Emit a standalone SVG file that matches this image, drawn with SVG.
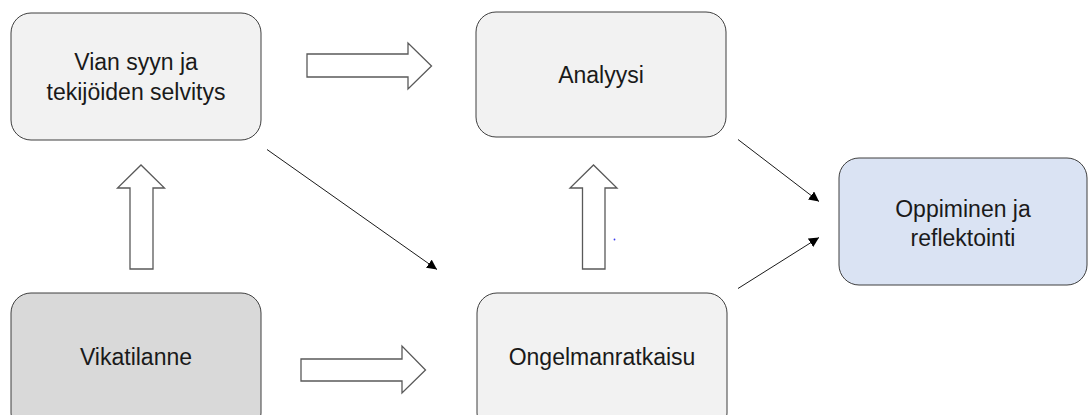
<svg xmlns="http://www.w3.org/2000/svg" width="1088" height="415" viewBox="0 0 1088 415">
  <style>
    .box { stroke: #3f3f3f; stroke-width: 1; }
    .light { fill: #f2f2f2; }
    .dark { fill: #d9d9d9; }
    .blue { fill: #dae3f3; }
    .label { font-family: "Liberation Sans", Arial, sans-serif; font-size: 23px; fill: #1a1a1a; text-anchor: middle; }
    .block { fill: #ffffff; stroke: #595959; stroke-width: 1.3; stroke-linejoin: miter; }
    .line { stroke: #1a1a1a; stroke-width: 1; fill: none; marker-end: url(#tip); }
  </style>
  <defs>
    <marker id="tip" viewBox="0 0 10 10" refX="10" refY="5" markerWidth="10" markerHeight="10" markerUnits="userSpaceOnUse" orient="auto">
      <path d="M0,0 L10,5 L0,10 Z" fill="#000000"/>
    </marker>
  </defs>

  <rect width="1088" height="415" fill="#ffffff"/>

  <g id="node-selvitys">
    <rect class="box light" x="11" y="13" width="250" height="127" rx="20"/>
    <text class="label" x="136" y="70">Vian syyn ja</text>
    <text class="label" x="136" y="100">tekijöiden selvitys</text>
  </g>

  <g id="node-analyysi">
    <rect class="box light" x="476" y="12" width="250" height="125" rx="20"/>
    <text class="label" x="601" y="83">Analyysi</text>
  </g>

  <g id="node-oppiminen">
    <rect class="box blue" x="839" y="158" width="248" height="127" rx="20"/>
    <text class="label" x="963" y="217">Oppiminen ja</text>
    <text class="label" x="963" y="246">reflektointi</text>
  </g>

  <g id="node-vikatilanne">
    <rect class="box dark" x="11" y="293" width="250" height="140" rx="20"/>
    <text class="label" x="136" y="365">Vikatilanne</text>
  </g>

  <g id="node-ongelmanratkaisu">
    <rect class="box light" x="477" y="293" width="250" height="140" rx="20"/>
    <text class="label" x="602" y="365">Ongelmanratkaisu</text>
  </g>

  <g id="connectors">
    <!-- block arrows -->
    <path class="block" d="M307,54 H408 V43 L431.5,66 L408,89 V77 H307 Z"/>
    <path class="block" d="M301,359 H402 V346 L425.5,370 L402,393 V381 H301 Z"/>
    <path class="block" d="M130,269 V188 H117.5 L141,165 L164.5,188 H153 V269 Z"/>
    <path class="block" d="M582.5,269 V188 H570 L593.5,165 L617,188 H605 V269 Z"/>
    <!-- thin arrows -->
    <line class="line" x1="267" y1="149.5" x2="437" y2="269.5"/>
    <line class="line" x1="738" y1="139.5" x2="819" y2="201.5"/>
    <line class="line" x1="738" y1="288.5" x2="819" y2="237.5"/>
  </g>

  <circle cx="614.5" cy="239.5" r="0.9" fill="#3a3af0"/>
</svg>
